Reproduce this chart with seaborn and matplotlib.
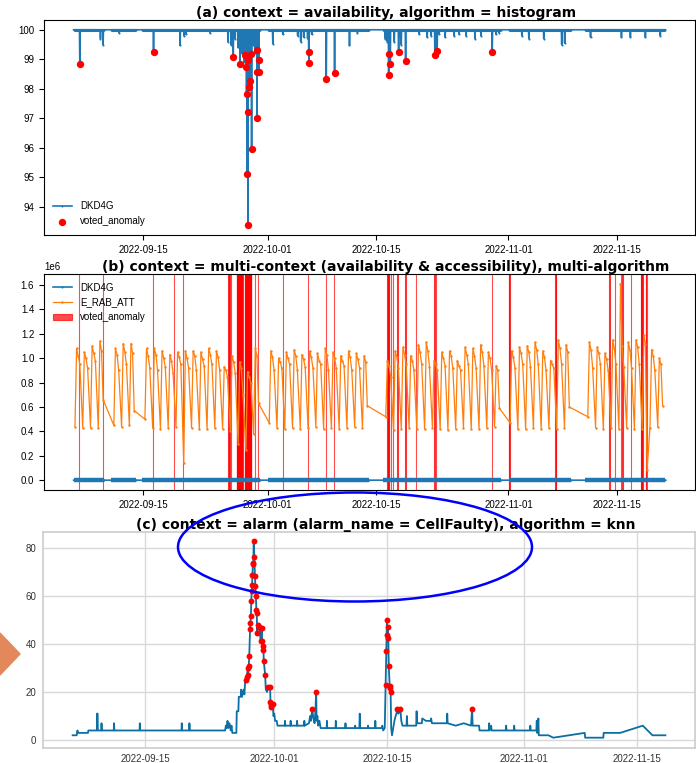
import numpy as np
import pandas as pd
import matplotlib
matplotlib.use('Agg')
import matplotlib.pyplot as plt
import matplotlib.dates as mdates
from matplotlib.patches import Ellipse, Polygon
import seaborn as sns

START = pd.Timestamp('2022-09-06')

# ---- (a) availability DKD4G (%), x = days after START ----
avail_segments = [(0.03, 4.0), (4.9, 8.1), (8.87, 24.0), (25.0, 38.1),
                  (39.9, 55.0), (56.05, 64.0), (65.9, 76.2)]
avail_dip_days = [3.49, 3.83, 5.9, 13.74, 14.26, 14.5, 17.6, 19.9, 20.28, 20.8,
                  21.18, 21.69, 21.95, 23.1, 23.36, 23.74, 25.67, 26.95, 28.87,
                  29.26, 29.64, 30.15, 30.67, 35.54, 36.56, 40.15, 40.41, 41.3,
                  41.95, 42.2, 44.51, 45.54, 46.05, 47.08, 47.85, 49.0, 49.64,
                  50.54, 51.69, 52.46, 54.38, 54.77, 57.72, 58.62, 60.54, 62.85,
                  63.23, 66.56, 70.54, 71.69, 73.62, 75.54]
avail_dip_vals = [99.7, 99.5, 99.9, 99.47, 99.8, 99.85, 99.9, 99.6, 99.5, 99.7,
                  99.4, 99.2, 98.9, 99.5, 99.2, 99.6, 99.53, 99.85, 99.8,
                  99.6, 99.75, 99.7, 99.85, 99.47, 99.9, 99.7, 99.6, 99.6,
                  99.8, 99.5, 99.85, 99.75, 99.8, 99.85, 99.75, 99.8, 99.85,
                  99.8, 99.7, 99.8, 99.85, 99.9, 99.8, 99.7, 99.7, 99.5,
                  99.55, 99.75, 99.75, 99.75, 99.75, 99.8]
avail_anom_days = [0.83, 10.32, 20.58, 21.44, 22.08, 22.21, 22.29, 22.36, 22.42,
                   22.46, 22.5, 22.63, 22.72, 22.81, 22.94, 23.58, 23.62, 23.66,
                   23.87, 23.91, 30.28, 30.32, 32.55, 33.62, 40.58, 40.67, 40.79,
                   41.86, 42.76, 46.53, 46.82, 53.91]
avail_anom_vals = [98.83, 99.26, 99.07, 98.83, 99.13, 98.74, 97.82, 95.13, 97.2,
                   93.38, 98.97, 98.05, 98.27, 99.19, 95.96, 99.30, 98.57, 97.02,
                   98.57, 98.97, 99.26, 98.88, 98.34, 98.53, 98.48, 99.19, 98.85,
                   99.26, 98.93, 99.13, 99.28, 99.24]

# ---- (b) E_RAB_ATT per day: night trough, morning peak, afternoon, evening (x1e6) ----
erab_days = [0, 1, 2, 3,
             5, 6, 7,
             9, 10, 11, 12, 13, 14, 15, 16, 17, 18, 19, 20, 21, 22, 23,
             25, 26, 27, 28, 29, 30, 31, 32, 33, 34, 35, 36, 37,
             40, 41, 42, 43, 44, 45, 46, 47, 48, 49, 50, 51, 52, 53, 54,
             56, 57, 58, 59, 60, 61, 62, 63,
             66, 67, 68, 69, 70, 71, 72, 73, 74, 75]
erab_trough = [0.44, 0.43, 0.43, 0.43,
               0.45, 0.44, 0.45,
               0.50, 0.43, 0.42, 0.43, 0.44, 0.14, 0.43, 0.42, 0.42, 0.43, 0.42, 0.40, 0.30, 0.25, 0.38,
               0.47, 0.43, 0.42, 0.43, 0.42, 0.43, 0.44, 0.42, 0.43, 0.42, 0.43, 0.44, 0.43,
               0.52, 0.41, 0.42, 0.43, 0.42, 0.42, 0.43, 0.42, 0.41, 0.42, 0.43, 0.42, 0.42, 0.43, 0.44,
               0.47, 0.42, 0.42, 0.43, 0.42, 0.43, 0.42, 0.43,
               0.52, 0.43, 0.42, 0.43, 0.42, 0.43, 0.42, 0.42, 0.43, 0.44]
erab_peak = [1.08, 1.05, 1.10, 1.14,
             1.08, 1.12, 1.12,
             1.08, 1.08, 1.06, 1.03, 1.05, 1.06, 1.06, 1.05, 1.08, 1.06, 0.93, 1.02, 0.97, 0.89, 1.08,
             1.06, 1.00, 1.05, 1.07, 1.03, 1.06, 1.04, 1.08, 1.05, 1.02, 1.06, 1.04, 1.02,
             0.98, 1.06, 1.09, 1.02, 1.11, 1.13, 0.98, 1.05, 1.06, 0.98, 1.09, 1.08, 1.11, 1.05, 0.94,
             1.06, 1.09, 1.10, 1.13, 1.06, 0.98, 1.15, 1.11,
             1.13, 1.09, 1.04, 1.15, 1.61, 1.13, 1.15, 1.19, 1.07, 1.00]
erab_pm = [1.02, 1.00, 1.04, 1.06,
           1.03, 1.05, 1.04,
           1.02, 1.03, 1.00, 0.98, 1.01, 1.00, 1.02, 0.99, 1.03, 1.01, 0.90, 0.97, 0.92, 0.85, 1.02,
           1.01, 0.97, 1.00, 1.02, 0.99, 1.01, 0.98, 1.03, 1.00, 0.98, 1.01, 0.99, 0.97,
           0.94, 1.01, 1.03, 0.98, 1.05, 1.06, 0.95, 1.00, 1.02, 0.94, 1.03, 1.02, 1.05, 1.00, 0.90,
           1.01, 1.04, 1.05, 1.07, 1.01, 0.95, 1.08, 1.05,
           1.07, 1.04, 0.99, 1.08, 1.10, 1.07, 1.09, 1.12, 1.02, 0.95]
erab_late = [0.95, 0.92, 0.98, 0.66,
             0.90, 0.95, 0.57,
             0.92, 0.90, 0.93, 0.88, 0.95, 0.92, 0.90, 0.94, 0.95, 0.90, 0.85, 0.88, 0.70, 0.80, 0.63,
             0.90, 0.92, 0.95, 0.90, 0.93, 0.92, 0.95, 0.90, 0.92, 0.94, 0.90, 0.92, 0.61,
             0.85, 0.92, 0.95, 0.90, 0.95, 0.93, 0.90, 0.94, 0.92, 0.90, 0.95, 0.92, 0.94, 0.90, 0.59,
             0.92, 0.95, 0.93, 0.95, 0.90, 0.92, 0.95, 0.60,
             0.92, 0.95, 0.90, 0.95, 0.93, 0.92, 0.95, 0.08, 0.90, 0.61]
multi_anom_days = [0.70, 3.78, 10.24, 12.97, 14.09, 19.94, 20.09, 20.24, 21.0, 22.05,
                   23.36, 23.78, 26.99, 30.19, 32.46, 33.53, 40.41, 40.58, 40.88,
                   41.09, 41.69, 42.72, 44.06, 46.44, 46.69, 53.83, 56.05, 62.04,
                   69.0, 69.73, 70.5, 70.67, 71.72, 73.04, 73.23, 73.65, 73.81]
multi_anom_hours = [1, 1, 1, 1, 1, 1, 1, 1, 19, 21,
                    1, 1, 1, 1, 1, 1, 3, 2, 1,
                    1, 1, 1, 1, 1, 1, 1, 2, 2,
                    1, 1, 1, 1, 1, 2, 1, 2, 1]

# ---- (c) CellFaulty alarm count ----
alarm_days = [0.0, 0.5, 0.55, 0.6, 0.65, 1.9, 1.95, 3.0, 3.02, 3.1, 3.12, 3.55, 3.58, 3.62,
              5.1, 5.13, 5.17, 8.3, 8.33, 8.37, 13.5, 13.53, 13.57, 14.45, 14.48, 14.52,
              18.9, 19.0, 19.1, 19.2, 19.3, 19.45, 19.6, 19.7, 19.8, 20.3, 20.35, 20.55,
              20.6, 20.85, 20.9, 21.0, 21.2, 21.3, 21.4,
              23.95, 24.1, 24.9, 25.0, 25.1, 25.3, 25.4, 25.6, 26.3, 26.33, 26.37, 27.0,
              27.03, 27.07, 27.8, 27.83, 27.87, 28.7, 28.73, 28.77, 29.3, 29.45, 29.55,
              29.85, 30.0, 30.1, 30.25, 30.35, 30.45, 30.6, 30.75,
              31.5, 31.53, 31.57, 32.6, 32.63, 32.67, 33.8, 33.83, 33.87, 35.0, 35.03,
              35.07, 35.55, 35.6, 35.65, 36.6, 36.63, 36.67, 37.5, 37.53, 37.57, 38.3,
              38.4, 38.5, 38.7,
              39.5, 39.6, 39.75, 39.9, 40.05, 40.15, 40.4, 40.5, 40.75, 40.9,
              41.4, 41.45, 41.5, 42.6, 42.65, 42.7, 43.3, 43.35, 43.8, 44.4, 44.45, 44.55,
              45.5, 46.4, 46.45, 46.5, 47.5, 48.5, 49.4, 49.6, 50.4, 50.45,
              51.6, 51.65, 51.7, 51.9, 51.95, 53.7, 53.75, 53.8, 54.7, 54.75, 54.8,
              56.7, 56.75, 56.8, 57.5, 57.55, 57.6, 57.75, 57.8,
              59.0, 59.6, 63.5, 63.55, 64.5, 65.8, 65.85, 66.6, 67.9, 70.7, 71.9, 73.5]
alarm_vals = [2, 2, 3, 4, 3, 3, 4, 4, 11, 11, 4, 4, 7, 4,
              4, 7, 4, 4, 7, 4, 4, 7, 4, 4, 7, 4,
              4, 6, 5, 8, 5, 7, 4, 6, 3, 3, 12, 12,
              18, 18, 21, 18, 21, 19, 25,
              21, 20, 10, 11, 8, 8, 6, 6, 6, 8, 6, 6,
              8, 6, 6, 8, 6, 6, 8, 6, 7, 10, 8,
              9, 7, 12, 8, 10, 6, 8, 5,
              5, 8, 5, 5, 8, 5, 5, 7, 5, 5, 6,
              5, 5, 11, 5, 5, 6, 5, 5, 8, 5, 5,
              6, 4, 5,
              5, 2, 5, 8, 10, 11, 11, 12, 8, 6,
              6, 10, 6, 6, 12, 7, 7, 9, 8, 8, 9, 7,
              7, 7, 11, 7, 6, 7, 6, 6, 6, 4,
              4, 7, 4, 6, 4, 4, 6, 4, 4, 6, 4,
              4, 6, 4, 4, 8, 3, 9, 2,
              2, 1, 3, 1, 1, 1, 3, 3, 3, 6, 2, 2]
alarm_anom_days = [21.51, 21.6, 21.71, 21.76, 21.83, 21.9, 22.0, 22.04, 22.1, 22.15,
                   22.2, 22.25, 22.3, 22.35, 22.4, 22.45, 22.54, 22.6, 22.66, 22.72,
                   22.78, 22.83, 22.88, 22.95, 23.05, 23.16, 23.3, 23.45, 23.5, 23.57,
                   23.66, 23.7, 23.87, 24.28, 24.49, 24.53, 24.6, 24.65, 24.81, 29.71,
                   30.2, 38.81, 38.9, 38.97, 39.02, 39.07, 39.14, 39.2, 39.31, 39.4,
                   39.43, 40.27, 40.64, 49.53]
alarm_anom_vals = [25, 26.4, 29.9, 27.1, 30.6, 35, 46.1, 48.6, 51.4, 57.6,
                   61.8, 64.6, 68.8, 73.6, 73, 82.6, 76, 68, 63.9, 59.7,
                   54.2, 52.8, 44.7, 47.9, 47.2, 47.2, 41, 46.5, 41, 39.2,
                   37.5, 32.9, 27.1, 22, 22, 16, 13.9, 14.6, 15, 12.9,
                   19.9, 22.9, 37, 50, 43.8, 47, 42.4, 30.8, 22.5, 21.5,
                   19.9, 12.9, 12.9, 12.9]


def to_time(days):
    return START + pd.to_timedelta(np.asarray(days, dtype=float), unit='D')


# availability series: 100 on segment edges, and just before/after every dip
pts = {}
for s, e in avail_segments:
    pts[s] = 100.0
    pts[e] = 100.0
dips = list(zip(avail_dip_days, avail_dip_vals)) + list(zip(avail_anom_days, avail_anom_vals))
for d, v in dips:
    pts.setdefault(round(d - 1 / 24, 4), 100.0)
    pts.setdefault(round(d + 1 / 24, 4), 100.0)
for d, v in dips:
    pts[d] = v
avail = pd.DataFrame(sorted(pts.items()), columns=['day', 'value'])
avail['time'] = to_time(avail['day'])

rows = []
for d, lo, hi, pm, late in zip(erab_days, erab_trough, erab_peak, erab_pm, erab_late):
    rows += [(d + 5 / 24, lo * 1e6), (d + 10 / 24, hi * 1e6),
             (d + 15 / 24, pm * 1e6), (d + 20 / 24, late * 1e6)]
erab = pd.DataFrame(rows, columns=['day', 'value'])
erab['time'] = to_time(erab['day'])

alarm = pd.DataFrame({'day': alarm_days + alarm_anom_days,
                      'value': alarm_vals + alarm_anom_vals}).sort_values('day')
alarm['time'] = to_time(alarm['day'])

plt.rcParams['font.family'] = ['Liberation Sans', 'DejaVu Sans']
BLUE = '#1f77b4'
ORANGE = '#ff7f0e'
TITLE_KW = dict(fontsize=10, fontweight='bold', family='DejaVu Sans', pad=2, x=0.525)

fig = plt.figure(figsize=(6.96, 7.63), dpi=100)
ax_a = fig.add_axes([0.0632, 0.692, 0.9354, 0.2818])
ax_b = fig.add_axes([0.0632, 0.3578, 0.9354, 0.2831])
ax_c = fig.add_axes([0.0618, 0.0203, 0.9368, 0.2831])

seg_start = mdates.date2num(to_time([s for s, e in avail_segments]))
seg_end = mdates.date2num(to_time([e for s, e in avail_segments]))
seg_level = [100.0] * len(avail_segments)

# (a)
ax_a.hlines(seg_level, seg_start, seg_end, color=BLUE, lw=2.2, zorder=1.5)
sns.lineplot(data=avail, x='time', y='value', ax=ax_a, color=BLUE, lw=1.2,
             marker='.', markersize=3, markeredgewidth=0, label='DKD4G', estimator=None)
sns.scatterplot(x=to_time(avail_anom_days), y=avail_anom_vals, ax=ax_a, color='red',
                s=28, linewidth=0, label='voted_anomaly', zorder=3)
ax_a.legend(loc='lower left', frameon=False, fontsize=7)
ax_a.set_title('(a) context = availability, algorithm = histogram', **TITLE_KW)

# (b)
ax_b.hlines(seg_level, seg_start, seg_end, color=BLUE, lw=3.2, zorder=1.5)
sns.lineplot(data=avail, x='time', y='value', ax=ax_b, color=BLUE, lw=1.2,
             marker='.', markersize=3, markeredgewidth=0, label='DKD4G', estimator=None)
sns.lineplot(data=erab, x='time', y='value', ax=ax_b, color=ORANGE, lw=0.9,
             marker='.', markersize=3.5, markeredgewidth=0, label='E_RAB_ATT', estimator=None)
first = True
for d, h in zip(multi_anom_days, multi_anom_hours):
    for k in range(h):
        t0, t1 = mdates.date2num(to_time([d + k / 24, d + (k + 1) / 24]))
        ax_b.axvspan(t0, t1, color='red', alpha=0.7, lw=0.8,
                     label='voted_anomaly' if first else None)
        first = False
ax_b.legend(loc='upper left', frameon=False, fontsize=7)
ax_b.set_title('(b) context = multi-context (availability & accessibility), multi-algorithm',
               **TITLE_KW)
ax_b.yaxis.get_offset_text().set_fontsize(7)

# (c)
sns.lineplot(data=alarm, x='time', y='value', ax=ax_c, color='#0b6fa4', lw=1.3,
             estimator=None)
sns.scatterplot(x=to_time(alarm_anom_days), y=alarm_anom_vals, ax=ax_c, color='red',
                s=18, linewidth=0, zorder=3)
ax_c.set_title('(c) context = alarm (alarm_name = CellFaulty), algorithm = knn', **TITLE_KW)
ax_c.grid(True, color='#d9d9d9', lw=1)
ax_c.set_axisbelow(True)
for sp in ax_c.spines.values():
    sp.set_color('#cccccc')
    sp.set_linewidth(1.2)
ax_c.tick_params(length=0, pad=5, colors='#333333')

for ax in (ax_a, ax_b, ax_c):
    ax.xaxis.set_major_locator(mdates.DayLocator(bymonthday=[1, 15]))
    ax.xaxis.set_major_formatter(mdates.DateFormatter('%Y-%m-%d'))
    ax.tick_params(labelsize=7)
    ax.set_xlabel('')
    ax.set_ylabel('')
ax_c.set_yticks([0, 20, 40, 60, 80])

# annotations drawn over the figure
fig.add_artist(Ellipse((355 / 696, 1 - 547 / 763), 354 / 696, 109 / 763,
                       transform=fig.transFigure, fill=False, ec='blue', lw=1.8, zorder=10))
fig.add_artist(Polygon([(0, 1 - 633 / 763), (20 / 696, 1 - 654 / 763), (0, 1 - 675 / 763)],
                       closed=True, transform=fig.transFigure, color='#e3885b', zorder=10))

fig.savefig('out.png', dpi=100)
